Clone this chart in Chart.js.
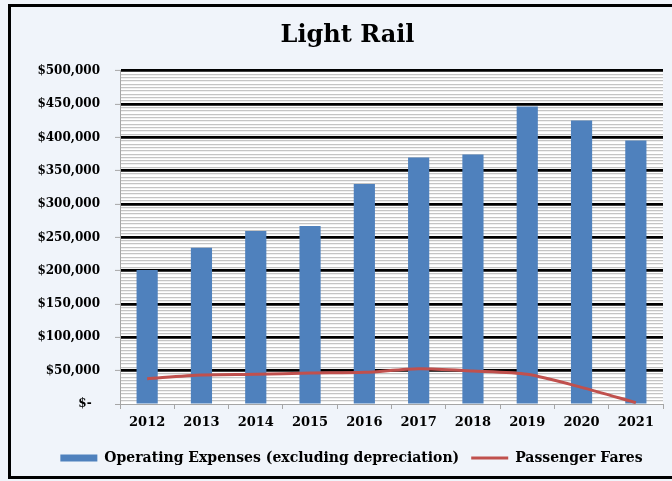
<!DOCTYPE html>
<html>
<head>
<meta charset="utf-8">
<title>Light Rail</title>
<script src="https://cdn.jsdelivr.net/npm/chart.js@4.4.1/dist/chart.umd.min.js"></script>
<style>
    html, body { margin: 0; padding: 0; background: #f0f4fa; }
    #chart-wrap { width: 672px; height: 481px; }
</style>
</head>
<body>
<div id="chart-wrap"><canvas id="rail-chart" width="672" height="481"></canvas></div>
<script>
// Chart data
const years = ['2012', '2013', '2014', '2015', '2016', '2017', '2018', '2019', '2020', '2021'];
const operatingExpenses = [201000, 234500, 259500, 267000, 330000, 370000, 374500, 446500, 425500, 395500];
const passengerFares = [38000, 43500, 44500, 46500, 47500, 53000, 49500, 44500, 25000, 2000];
const yMax = 500000;
const majorStep = 50000;
const minorStep = 5000;

const serif = 'DejaVu Serif';
const axisGray = '#a6a6a6';

// page background, white plot area and the black frame round the picture
const backdrop = {
    id: 'backdrop',
    beforeDraw(chart) {
        const { ctx, chartArea: a } = chart;
        ctx.save();
        ctx.fillStyle = '#f0f4fa';
        ctx.fillRect(0, 0, chart.width, chart.height);
        ctx.fillStyle = '#ffffff';
        ctx.fillRect(a.left, a.top, a.right - a.left, a.bottom - a.top);
        ctx.strokeStyle = '#000000';
        ctx.lineWidth = 3;
        ctx.strokeRect(9.5, 5.5, chart.width + 20, chart.height - 9);
        ctx.restore();
    }
};

// the original legend and title sit a little right of the canvas centre
const nudge = {
    id: 'nudge',
    afterLayout(chart) {
        chart.legend.left += 10;
        chart.legend.right += 10;
        chart.titleBlock.left += 6;
        chart.titleBlock.right += 6;
    }
};

function isMajor(value) {
    return value % majorStep === 0;
}

function money(value) {
    if (value === 0) return '$-  ';
    return '$' + value.toLocaleString('en-US');
}

document.addEventListener('DOMContentLoaded', () => {
    const ctx = document.getElementById('rail-chart').getContext('2d');

    new Chart(ctx, {
        type: 'bar',
        data: {
            labels: years,
            datasets: [
                {
                    label: 'Operating Expenses (excluding depreciation)',
                    data: operatingExpenses,
                    backgroundColor: '#4f81bd',
                    borderWidth: 0,
                    barPercentage: 0.39,
                    categoryPercentage: 1,
                    pointStyle: 'rect',
                    order: 2
                },
                {
                    type: 'line',
                    label: 'Passenger Fares',
                    data: passengerFares,
                    borderColor: '#c0504d',
                    backgroundColor: '#c0504d',
                    borderWidth: 3,
                    pointRadius: 0,
                    tension: 0.25,
                    fill: false,
                    pointStyle: 'line',
                    order: 1
                }
            ]
        },
        options: {
            responsive: false,
            animation: false,
            layout: {
                padding: { left: 20, right: 9, top: 0, bottom: 6 }
            },
            plugins: {
                tooltip: { enabled: false },
                title: {
                    display: true,
                    text: 'Light Rail',
                    color: '#000000',
                    font: { family: serif, size: 24, weight: 'bold' },
                    padding: { top: 21, bottom: 21 }
                },
                legend: {
                    position: 'bottom',
                    labels: {
                        usePointStyle: true,
                        pointStyleWidth: 37,
                        boxHeight: 7,
                        padding: 12,
                        color: '#000000',
                        font: { family: serif, size: 14, weight: 'bold' },
                        sort: (a, b) => a.datasetIndex - b.datasetIndex
                    }
                }
            },
            scales: {
                x: {
                    afterFit: scale => { scale.height = 35; },
                    grid: {
                        display: true,
                        drawOnChartArea: false,
                        drawTicks: true,
                        tickLength: 5,
                        color: axisGray
                    },
                    border: { color: axisGray, width: 1 },
                    ticks: {
                        padding: 6,
                        color: '#000000',
                        font: { family: serif, size: 13, weight: 'bold' }
                    }
                },
                y: {
                    min: 0,
                    max: yMax,
                    afterFit: scale => { scale.width = 100; },
                    grid: {
                        color: c => (c.tick && isMajor(c.tick.value) && c.tick.value !== 0) ? '#000000' : (c.tick && c.tick.value === 0 ? axisGray : '#c4c4c4'),
                        lineWidth: c => (c.tick && isMajor(c.tick.value) && c.tick.value !== 0) ? 2.8 : (c.tick && c.tick.value === 0 ? 1 : 1.2),
                        tickColor: c => (c.tick && isMajor(c.tick.value)) ? axisGray : 'rgba(0,0,0,0)',
                        tickWidth: 1,
                        tickLength: 5
                    },
                    border: { color: axisGray, width: 1 },
                    ticks: {
                        stepSize: minorStep,
                        maxTicksLimit: 200,
                        autoSkip: false,
                        padding: 15,
                        color: '#000000',
                        font: { family: serif, size: 12, weight: 'bold' },
                        callback: value => isMajor(value) ? money(value) : ''
                    }
                }
            }
        },
        plugins: [backdrop, nudge]
    });
});
</script>
</body>
</html>
